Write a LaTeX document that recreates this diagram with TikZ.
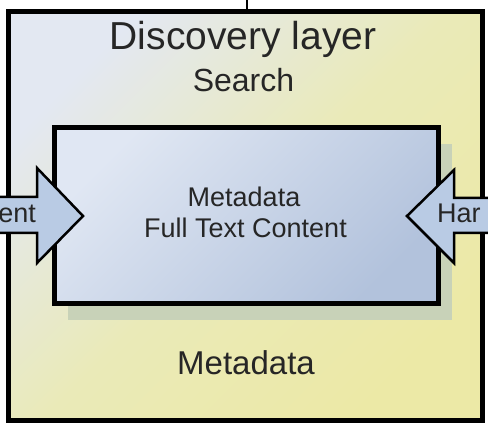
\documentclass[tikz,border=0pt]{standalone}
\usepackage{fontspec}
\setmainfont{Liberation Sans}
\definecolor{layertop}{HTML}{E3E8F2}
\definecolor{layermid}{HTML}{EAEAB8}
\definecolor{layerbot}{HTML}{ECE9A6}
\definecolor{coretop}{HTML}{E0E7F3}
\definecolor{corebot}{HTML}{B2C2DC}
\definecolor{coreshadow}{HTML}{C8D2B8}
\definecolor{arrowblue}{HTML}{B9CBE4}
\begin{document}
\begin{tikzpicture}[x=1pt,y=-1pt,
    txt/.style={inner sep=0pt,text=black!85,anchor=base},
    arr/.style={draw=black,line width=2.5pt,fill=arrowblue,line join=miter}]
    \useasboundingbox (0,0) rectangle (488,427);
    % outer layer box
    \node (layer) [draw, line width=5pt, minimum width=473.5pt, minimum height=409.5pt,
        top color=layertop, bottom color=layerbot, middle color=layermid,
        shading angle=45] at (245.25,216.25) {};
    \coordinate (tick) at (247,0);
    \draw[line width=2pt] (layer.north -| tick) -- (tick);
    \node (title) [txt, font=\fontsize{39}{39}\selectfont] at (243,50) {Discovery layer};
    \node (search) [txt, font=\fontsize{32}{32}\selectfont] at (243.5,92) {Search};
    \node (meta) [txt, font=\fontsize{33}{33}\selectfont] at (246,375) {Metadata};
    % inner box with its shadow
    \fill[coreshadow] (68,144) rectangle (452,320);
    \node (core) [draw, line width=5pt, minimum width=384pt, minimum height=176pt,
        top color=coretop, bottom color=corebot, shading angle=45] at (246,216) {};
    \node (coremeta) [txt, font=\fontsize{27}{27}\selectfont] at (244,207) {Metadata};
    \node (corefull) [txt, font=\fontsize{27}{27}\selectfont] at (245.5,238) {Full Text Content};
    % arrows into the inner box
    \draw[arr] (-6,197) -- (37,197) -- (37,168) -- (83,216) -- (37,263) -- (37,233) -- (-6,233) -- cycle;
    \node (inleft) [txt, anchor=base east, font=\fontsize{27}{27}\selectfont] at (36,223) {ent};
    \draw[arr] (494,198) -- (454,198) -- (454,170) -- (407,216) -- (454,263) -- (454,233) -- (494,233) -- cycle;
    \node (inright) [txt, anchor=base west, font=\fontsize{27}{27}\selectfont] at (437,223) {Har};
\end{tikzpicture}
\end{document}
